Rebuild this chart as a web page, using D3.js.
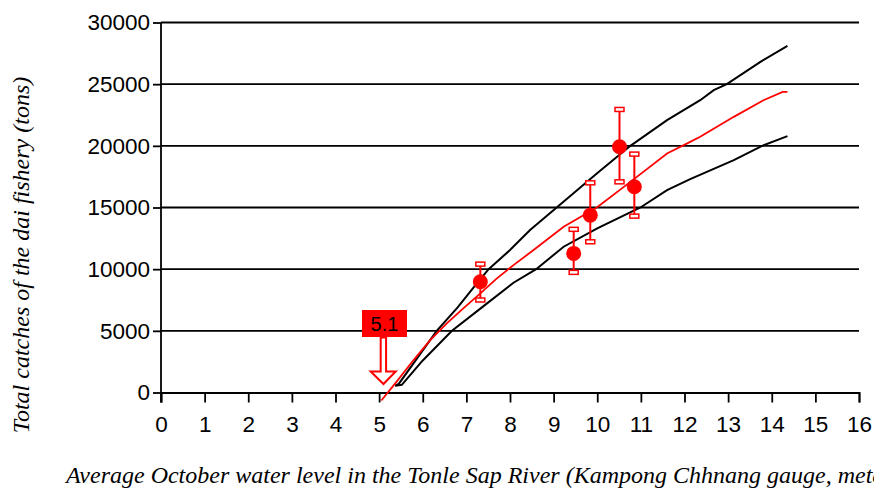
<!DOCTYPE html>
<html><head><meta charset="utf-8">
<script src="https://cdn.jsdelivr.net/npm/d3@7"></script>
<style>body{margin:0;background:#fff;overflow:hidden;}svg{display:block;}</style>
</head><body>
<svg id="c" width="874" height="488"></svg>
<script>
const xTickLabels = [0,1,2,3,4,5,6,7,8,9,10,11,12,13,14,15,16];
const yTickLabels = [0,5000,10000,15000,20000,25000,30000];

const midX   = [5.05, 5.37, 5.79, 6.17, 6.55, 6.93, 7.32, 7.70, 8.08, 8.54, 9.23, 9.99, 10.76, 11.6, 12.13, 12.36, 13.13, 13.81, 14.25, 14.36];
const midY   = [-650, 745, 2630, 4250, 5600, 6820, 8040, 9250, 10330, 11550, 13440, 15000, 17080, 19380, 20320, 20730, 22350, 23700, 24380, 24380];

const upperX = [5.37, 5.45, 6.32, 6.80, 7.24, 7.51, 8.00, 8.46, 9.07, 9.99, 10.76, 11.6, 12.36, 12.67, 12.97, 13.74, 14.36];
const upperY = [550, 700, 5000, 6900, 8850, 10000, 11550, 13170, 15000, 17760, 20000, 22080, 23700, 24510, 25000, 26810, 28100];

const lowerX = [5.37, 5.52, 6.00, 6.67, 7.32, 8.08, 8.60, 9.23, 10.0, 10.99, 11.6, 12.13, 13.13, 13.78, 14.36];
const lowerY = [550, 620, 2600, 5000, 6800, 8900, 10000, 11820, 13300, 15000, 16410, 17300, 18840, 20000, 20790];

const obsX    = [7.32, 9.46, 9.84, 10.51, 10.85];
const obsMean = [8980, 11280, 14380, 19920, 16680];
const obsLow  = [7500, 9740, 12220, 17080, 14300];
const obsHigh = [10410, 13230, 17000, 22950, 19330];

const thresholdValue = 5.1;
const thresholdLabel = "5.1";

const svg = d3.select("#c");
const x = d3.scaleLinear().domain([0,16]).range([161,859]);
const y = d3.scaleLinear().domain([0,30000]).range([392.5,22.5]);

// gridlines
svg.append("g").selectAll("line").data(yTickLabels.filter(d=>d>0)).join("line")
  .attr("x1", x(0)).attr("x2", x(16)).attr("y1", d=>y(d)).attr("y2", d=>y(d))
  .attr("stroke","#000").attr("stroke-width",1.8);

// axes
const xAxis = d3.axisBottom(x).tickValues(xTickLabels).tickSize(10).tickPadding(14).tickFormat(d3.format("d"));
const gx = svg.append("g").attr("transform",`translate(0,${y(0)})`).call(xAxis);
gx.select(".domain").attr("stroke","#000").attr("stroke-width",1.8);
gx.selectAll(".tick line").attr("stroke","#000").attr("stroke-width",1.8);
gx.selectAll("text").attr("font-family","Liberation Sans, Arial, sans-serif").attr("font-size",22.5).attr("fill","#000");

const yAxis = d3.axisLeft(y).tickValues(yTickLabels).tickSize(8).tickPadding(3).tickFormat(d3.format("d"));
const gy = svg.append("g").attr("transform",`translate(${x(0)},0)`).call(yAxis);
gy.select(".domain").attr("stroke","#000").attr("stroke-width",1.8).attr("d",`M0,${y(30000)}V${y(0)+10}`);
gy.selectAll(".tick line").attr("stroke","#000").attr("stroke-width",1.8);
gy.selectAll("text").attr("font-family","Liberation Sans, Arial, sans-serif").attr("font-size",22.5).attr("fill","#000");

// curves
const line = d3.line().x(d=>x(d[0])).y(d=>y(d[1]));
const zip = (a,b)=>a.map((v,i)=>[v,b[i]]);
svg.append("path").attr("d", line(zip(upperX,upperY))).attr("fill","none").attr("stroke","#000").attr("stroke-width",2);
svg.append("path").attr("d", line(zip(lowerX,lowerY))).attr("fill","none").attr("stroke","#000").attr("stroke-width",2);
svg.append("path").attr("d", line(zip(midX,midY))).attr("fill","none").attr("stroke","#ff0000").attr("stroke-width",1.8);

// error bars
const eb = svg.append("g");
obsX.forEach((xv,i)=>{
  eb.append("line").attr("x1",x(xv)).attr("x2",x(xv)).attr("y1",y(obsLow[i])).attr("y2",y(obsHigh[i]))
    .attr("stroke","#ff0000").attr("stroke-width",2);
  [obsLow[i], obsHigh[i]].forEach(v=>{
    eb.append("rect").attr("x",x(xv)-4.5).attr("y",y(v)-2).attr("width",9).attr("height",4)
      .attr("fill","#fff").attr("stroke","#ff0000").attr("stroke-width",1.5);
  });
  eb.append("circle").attr("cx",x(xv)).attr("cy",y(obsMean[i])).attr("r",7.5).attr("fill","#ff0000");
});

// threshold marker
const tx = x(thresholdValue), ty = y(0);
svg.append("path")
  .attr("d",`M${tx-2.8},${ty-55}V${ty-21}H${tx-12.8}L${tx},${ty-8.5}L${tx+12.2},${ty-21}H${tx+2.6}V${ty-55}Z`)
  .attr("fill","#fff").attr("stroke","#ff0000").attr("stroke-width",2);
svg.append("rect").attr("x",tx-21.5).attr("y",ty-82.5).attr("width",45).attr("height",27).attr("fill","#ff0000");
svg.append("text").attr("x",tx+1).attr("y",ty-61.5).attr("text-anchor","middle")
  .attr("font-family","Liberation Sans, Arial, sans-serif").attr("font-size",20).attr("fill","#000").text(thresholdLabel);

// axis titles
svg.append("text").attr("transform","translate(29,255) rotate(-90)").attr("text-anchor","middle")
  .attr("font-family","Liberation Serif, Times New Roman, serif").attr("font-style","italic").attr("font-size",24)
  .attr("fill","#000").text("Total catches of the dai fishery (tons)");
svg.append("text").attr("x",66).attr("y",483)
  .attr("font-family","Liberation Serif, Times New Roman, serif").attr("font-style","italic").attr("font-size",24)
  .attr("fill","#000").text("Average October water level in the Tonle Sap River (Kampong Chhnang gauge, meters)");
</script>
</body></html>
